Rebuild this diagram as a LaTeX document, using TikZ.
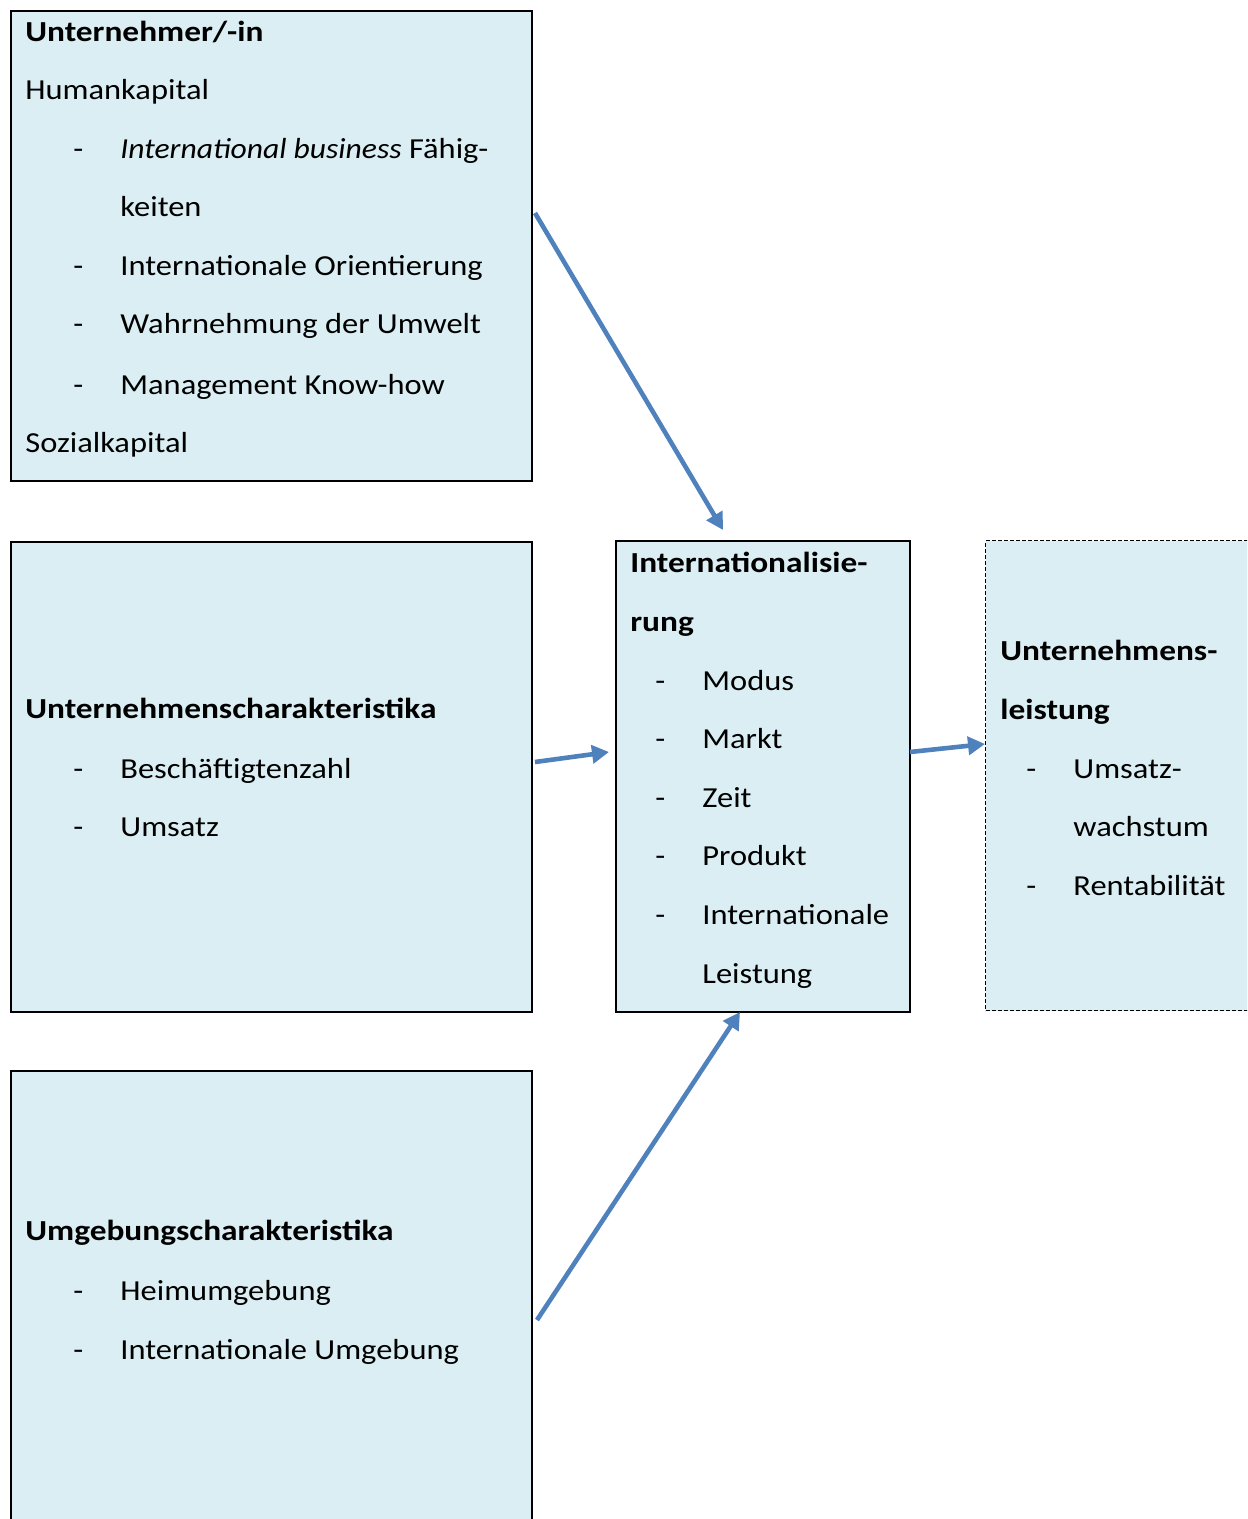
\documentclass[tikz,border=0pt]{standalone}
\usepackage{fontspec}
\setmainfont{Carlito}[FakeStretch=1.12, BoldFeatures={FakeStretch=1.15}, ItalicFeatures={FakeStretch=1.09}]
\usetikzlibrary{arrows.meta}
\definecolor{boxfill}{HTML}{DAEEF3}
\definecolor{arrowblue}{HTML}{4F81BD}
\begin{document}
\begin{tikzpicture}[x=0.5pt,y=-0.5pt,
  box/.style={draw=black, line width=1.1pt, fill=boxfill, anchor=north west, inner sep=0pt},
  dbox/.style={draw=black, line width=0.5pt, dash pattern=on 2pt off 1pt, fill=boxfill, anchor=north west, inner sep=0pt},
  txt/.style={anchor=base west, inner sep=0pt, font=\fontsize{14.5}{17}\selectfont},
  hd/.style={anchor=base west, inner sep=0pt, font=\fontsize{14.5}{17}\selectfont\bfseries},
  arr/.style={draw=arrowblue, line width=2.3pt, -{Triangle[length=8.5pt,width=9pt]}}]
\useasboundingbox (0,0) rectangle (1247,1519);
\clip (0,0) rectangle (1247,1519);
% boxes
\node[box, minimum width=260.5pt, minimum height=235pt] (A) at (10,10) {};
\node[box, minimum width=260.5pt, minimum height=235pt] (B) at (10,541) {};
\node[box, minimum width=260.5pt, minimum height=235pt] (C) at (10,1070) {};
\node[box, minimum width=147pt, minimum height=235.5pt] (D) at (615,540) {};
\node[dbox, minimum width=140pt, minimum height=235pt] (E) at (985,540) {};
% box A text
\node[hd] (a1) at (25,42) {Unternehmer/-in};
\node[txt] (a2) at (25,100) {Humankapital};
\node[txt] (a3d) at (73,159) {-};
\node[txt] (a3) at (120,159) {\textit{International business} Fähig-};
\node[txt] (a4) at (120,217) {keiten};
\node[txt] (a5d) at (73,276) {-};
\node[txt] (a5) at (120,276) {Internationale Orientierung};
\node[txt] (a6d) at (73,334) {-};
\node[txt] (a6) at (120,334) {Wahrnehmung der Umwelt};
\node[txt] (a7d) at (73,394) {-};
\node[txt] (a7) at (120,394) {Management Know-how};
\node[txt] (a8) at (25,452) {Sozialkapital};
% box B text
\node[hd] (b1) at (25,718) {Unternehmenscharakteristika};
\node[txt] (b2d) at (73,778) {-};
\node[txt] (b2) at (120,778) {Beschäftigtenzahl};
\node[txt] (b3d) at (73,836) {-};
\node[txt] (b3) at (120,836) {Umsatz};
% box C text
\node[hd] (c1) at (25,1240) {Umgebungscharakteristika};
\node[txt] (c2d) at (73,1300) {-};
\node[txt] (c2) at (120,1300) {Heimumgebung};
\node[txt] (c3d) at (73,1359) {-};
\node[txt] (c3) at (120,1359) {Internationale Umgebung};
% box D text
\node[hd] (d1) at (630,572) {Internationalisie-};
\node[hd] (d2) at (630,631) {rung};
\node[txt] (d3d) at (655,690) {-};
\node[txt] (d3) at (702,690) {Modus};
\node[txt] (d4d) at (655,748) {-};
\node[txt] (d4) at (702,748) {Markt};
\node[txt] (d5d) at (655,807) {-};
\node[txt] (d5) at (702,807) {Zeit};
\node[txt] (d6d) at (655,865) {-};
\node[txt] (d6) at (702,865) {Produkt};
\node[txt] (d7d) at (655,924) {-};
\node[txt] (d7) at (702,924) {Internationale};
\node[txt] (d8) at (702,983) {Leistung};
% box E text
\node[hd] (e1) at (1000,660) {Unternehmens-};
\node[hd] (e2) at (1000,719) {leistung};
\node[txt] (e3d) at (1026,778) {-};
\node[txt] (e3) at (1073,778) {Umsatz-};
\node[txt] (e4) at (1073,836) {wachstum};
\node[txt] (e5d) at (1026,895) {-};
\node[txt] (e5) at (1073,895) {Rentabilität};
% arrows
\coordinate (p1s) at (535,213);
\coordinate (p1e) at (723,530);
\coordinate (p2s) at (535,762);
\coordinate (p2e) at (609,752);
\coordinate (p3s) at (910,752);
\coordinate (p3e) at (985,744);
\coordinate (p4s) at (537,1320);
\coordinate (p4e) at (740,1012);
\draw[arr] (p1s) -- (p1e);
\draw[arr] (p2s) -- (p2e);
\draw[arr] (p3s) -- (p3e);
\draw[arr] (p4s) -- (p4e);
\end{tikzpicture}
\end{document}
